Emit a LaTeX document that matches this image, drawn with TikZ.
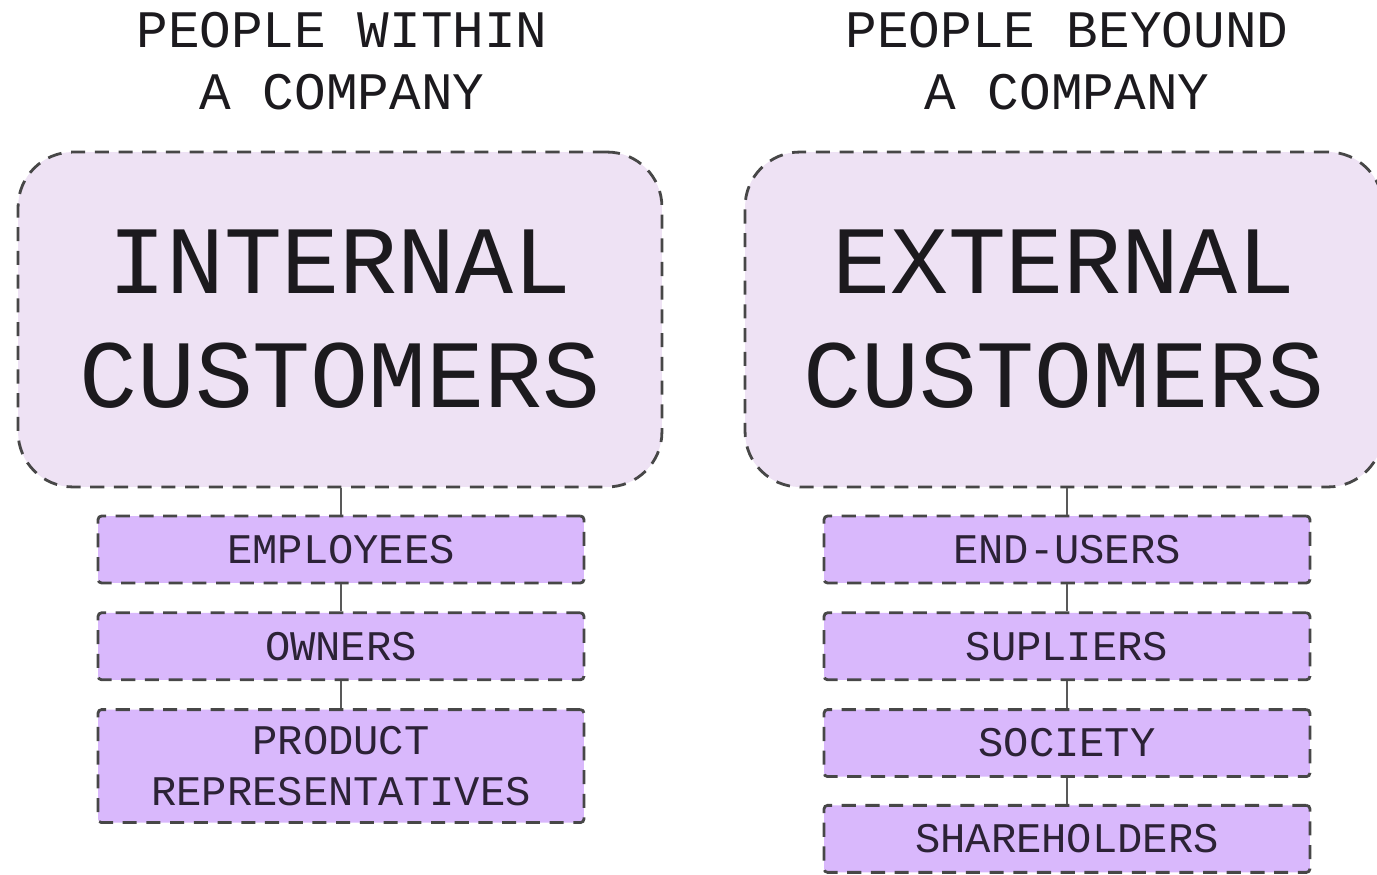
\documentclass[tikz,border=0pt]{standalone}
\usepackage{fontspec}
\setmonofont{Liberation Mono}
\usepackage{xcolor}
\usetikzlibrary{positioning}

\definecolor{paleLilac}{HTML}{EEE2F4}
\definecolor{lilac}{HTML}{D9B8FC}
\definecolor{inkDark}{HTML}{1C1A1E}
\definecolor{inkPurple}{HTML}{2C2236}

\begin{document}
\begin{tikzpicture}[x=0.02cm,y=-0.02cm,
	heading/.style={align=center, text=inkDark, font=\ttfamily\fontsize{30}{35}\selectfont},
	group/.style={draw=black!72, dash pattern=on 8pt off 5.5pt, line width=1.6pt,
		rounded corners=1.1cm, fill=paleLilac, minimum width=12.88cm, minimum height=6.7cm,
		align=center, text=inkDark, font=\ttfamily\fontsize{55}{65}\selectfont},
	item/.style={draw=black!72, dash pattern=on 8pt off 5.5pt, line width=1.6pt,
		rounded corners=2pt, fill=lilac, minimum width=9.72cm, minimum height=1.34cm,
		align=center, text=inkPurple, font=\ttfamily\fontsize{24}{28.5}\selectfont},
	link/.style={draw=black!65, line width=1.3pt}]
\useasboundingbox (0,0) rectangle (1377,875);

% headings
\node[heading] (inhead) at (342,61) {PEOPLE WITHIN\\A COMPANY};
\node[heading] (exhead) at (1067,61) {PEOPLE BEYOUND\\A COMPANY};

% the two groups
\node[group] (int) at (340,319.5) {INTERNAL\\CUSTOMERS};
\node[group, minimum width=12.76cm] (ext) at (1064,319.5) {EXTERNAL\\CUSTOMERS};

% internal customers
\node[item] (emp) at (341,549.5) {EMPLOYEES};
\node[item, below=0.54cm of emp] (own) {OWNERS};
\node[item, below=0.54cm of own, minimum height=2.26cm] (prod) {PRODUCT\\REPRESENTATIVES};

% external customers
\node[item] (endu) at (1067,549.5) {END-USERS};
\node[item, below=0.54cm of endu] (supl) {SUPLIERS};
\node[item, below=0.54cm of supl] (soc) {SOCIETY};
\node[item, below=0.52cm of soc] (share) {SHAREHOLDERS};

\draw[link] (int.south -| emp.north) -- (emp.north);
\draw[link] (emp) -- (own);
\draw[link] (own) -- (prod);

\draw[link] (ext.south -| endu.north) -- (endu.north);
\draw[link] (endu) -- (supl);
\draw[link] (supl) -- (soc);
\draw[link] (soc) -- (share);
\end{tikzpicture}
\end{document}
